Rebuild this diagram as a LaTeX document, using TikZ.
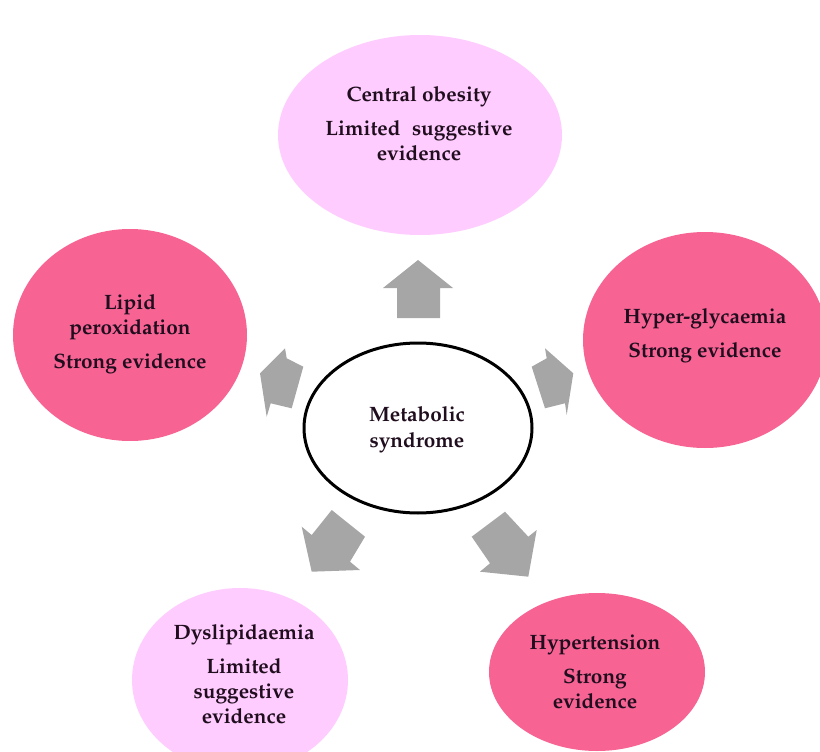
\documentclass[tikz,border=0pt]{standalone}
\usepackage[T1]{fontenc}
\renewcommand\rmdefault{ppl}
\usetikzlibrary{shapes.geometric}
\definecolor{darkpink}{RGB}{247,100,148}
\definecolor{lightpink}{RGB}{255,204,255}
\definecolor{arrowgray}{RGB}{166,166,166}
\definecolor{txt}{RGB}{32,14,30}
\begin{document}
\begin{tikzpicture}[x=1pt,y=-1pt,
  bubble/.style={ellipse, draw=none, inner sep=0pt},
  strongbubble/.style={bubble, fill=darkpink},
  weakbubble/.style={bubble, fill=lightpink},
  centerbubble/.style={ellipse, draw=black, line width=3pt, fill=white, inner sep=0pt},
  label/.style={align=center, text=txt, font=\fontsize{20.8}{25}\selectfont\bfseries, inner sep=0pt},
  blockarrow/.style={fill=arrowgray, draw=none}]
\useasboundingbox (0,0) rectangle (820,752);
% ellipses
\node[weakbubble, minimum width=284pt, minimum height=200pt] (obesity) at (420,135) {};
\node[strongbubble, minimum width=234pt, minimum height=212pt] (lipid) at (130,335) {};
\node[strongbubble, minimum width=244pt, minimum height=216pt] (glyc) at (705,340) {};
\node[weakbubble, minimum width=216pt, minimum height=184pt] (dys) at (240,680) {};
\node[strongbubble, minimum width=216pt, minimum height=158pt] (hyper) at (597,672) {};
\node[centerbubble, minimum width=228pt, minimum height=170pt] (met) at (418,428) {};
% texts
\node[label] (tobesity) at (419,124) {Central obesity\\[9pt]Limited\hspace{0.3em} suggestive\\evidence};
\node[label] (tlipid) at (130,334) {Lipid\\peroxidation\\[9pt]Strong evidence};
\node[label] (tglyc) at (705,336) {Hyper-glycaemia\\[9pt]Strong evidence};
\node[label] (tdys) at (244,674) {Dyslipidaemia\\[9pt]Limited\\suggestive\\evidence};
\node[label] (thyper) at (595,672) {Hypertension\\[9pt]Strong\\evidence};
\node[label] (tmet) at (417,430) {Metabolic\\[1pt]syndrome};
% block arrows
\fill[blockarrow] (418,260) -- (453,288) -- (440,288) -- (440,318) -- (397,318) -- (397,288) -- (383,288) -- cycle;
\fill[blockarrow] (260,373.3) -- (285,348.3) -- (286.7,358.3) -- (303.3,366.7) -- (291.7,408.3) -- (270.7,403.3) -- (266.7,416.7) -- cycle;
\fill[blockarrow] (573.3,373.3) -- (545,348.3) -- (546.7,358.3) -- (531.7,366.7) -- (545,408.3) -- (565,403.3) -- (566.7,415) -- cycle;
\fill[blockarrow] (311.7,571.7) -- (301.7,526.7) -- (311.7,535) -- (331.7,510) -- (365,536.7) -- (350,561.7) -- (360,570) -- cycle;
\fill[blockarrow] (528.3,576.7) -- (536.7,530) -- (528.3,536.7) -- (505,511.7) -- (471.7,536.7) -- (490,563.3) -- (480,571.7) -- cycle;
\end{tikzpicture}
\end{document}
